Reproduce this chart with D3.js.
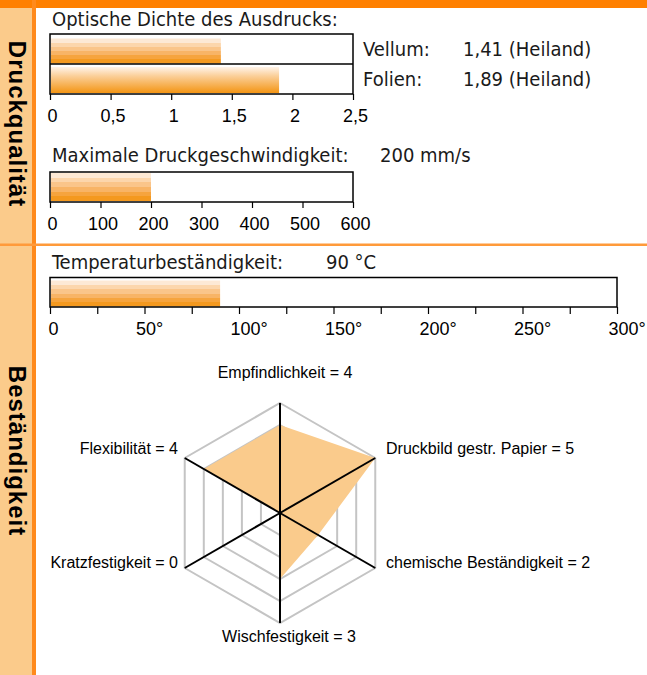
<!DOCTYPE html>
<html><head><meta charset="utf-8">
<script src="https://cdn.jsdelivr.net/npm/d3@7"></script>
<style>
html,body{margin:0;padding:0;background:#fff;}
svg{display:block;}
.title{font-family:"DejaVu Sans Condensed","DejaVu Sans",sans-serif;font-size:20px;fill:#1a1a1a;}
.tick text{font-family:"Liberation Sans",Arial,sans-serif;font-size:18px;fill:#000;}
.rlab{font-family:"Liberation Sans",Arial,sans-serif;font-size:16px;fill:#000;}
.side{font-family:"Liberation Sans",Arial,sans-serif;font-size:24px;font-weight:bold;fill:#000;letter-spacing:1px;}
</style></head>
<body>
<script>
// ---- data ----
const densityCats = ["Vellum:", "Folien:"];
const densityVals = [1.41, 1.89];
const densityText = ["1,41 (Heiland)", "1,89 (Heiland)"];
const densityTicks = [0, 0.5, 1, 1.5, 2, 2.5];

const speedVal = [200];
const speedText = "200 mm/s";
const speedTicks = [0, 100, 200, 300, 400, 500, 600];

const tempVal = [90];
const tempText = "90 °C";
const tempTicks = [0, 50, 100, 150, 200, 250, 300];
const tempMinorTicks = [25, 75, 125, 175, 225, 275];

const radarCats = ["Empfindlichkeit", "Druckbild gestr. Papier", "chemische Beständigkeit", "Wischfestigkeit", "Kratzfestigkeit", "Flexibilität"];
const radarVals = [4, 5, 2, 3, 0, 4];
const radarLevels = [1, 2, 3, 4, 5];

const sections = ["Druckqualität", "Beständigkeit"];

// ---- drawing ----
const W = 647, H = 675;
const svg = d3.select("body").append("svg").attr("width", W).attr("height", H);

const orange = "#ff8000", light = "#fbcb8b";

// background frame
svg.append("rect").attr("x", 0).attr("y", 0).attr("width", 33).attr("height", H).attr("fill", light);
svg.append("rect").attr("x", 0).attr("y", 0).attr("width", W).attr("height", 8).attr("fill", orange);
svg.append("rect").attr("x", 32).attr("y", 0).attr("width", 4).attr("height", H).attr("fill", "#ff8a1c");
svg.append("rect").attr("x", 0).attr("y", 243.5).attr("width", W).attr("height", 2.5).attr("fill", "#ff9a3a");

// side labels
[[sections[0], 124], [sections[1], 451]].forEach(([t, cy]) => {
  svg.append("text").attr("class", "side")
    .attr("transform", `translate(9,${cy}) rotate(90)`)
    .attr("text-anchor", "middle").text(t);
});

// gradients
const defs = svg.append("defs");
const stepCols = ["#fde9d5", "#fcd6ac", "#fac58a", "#f8b466", "#f6a43e", "#f4991f"];
const stepG = defs.append("linearGradient").attr("id", "gStep").attr("x1", 0).attr("y1", 0).attr("x2", 0).attr("y2", 1);
stepCols.forEach((c, i) => {
  stepG.append("stop").attr("offset", i / stepCols.length).attr("stop-color", c);
  stepG.append("stop").attr("offset", (i + 1) / stepCols.length).attr("stop-color", c);
});
const smoothG = defs.append("linearGradient").attr("id", "gSmooth").attr("x1", 0).attr("y1", 0).attr("x2", 0).attr("y2", 1);
smoothG.append("stop").attr("offset", 0).attr("stop-color", "#fff3e8");
smoothG.append("stop").attr("offset", 0.35).attr("stop-color", "#fbcf98");
smoothG.append("stop").attr("offset", 1).attr("stop-color", "#f39514");

const fmtDe = d => String(d).replace(".", ",");

function axisStyle(g) {
  g.select(".domain").remove();
  g.selectAll(".tick line").attr("stroke", "#000").attr("stroke-width", 1.2);
}

// ---- chart 1: optical density ----
{
  const x = d3.scaleLinear().domain([0, 2.5]).range([50, 353]);
  const y = d3.scaleBand().domain(densityCats).range([34, 94]);
  svg.append("text").attr("class", "title").attr("x", 52).attr("y", 26).text("Optische Dichte des Ausdrucks:");
  svg.selectAll(".dbar").data(densityVals).join("rect")
    .attr("x", x(0) + 1).attr("y", (d, i) => y(densityCats[i]) + (i === 0 ? 4.5 : 3))
    .attr("width", d => x(d) - x(0) - 1)
    .attr("height", (d, i) => y.bandwidth() - (i === 0 ? 5 : 4))
    .attr("fill", (d, i) => i === 0 ? "url(#gStep)" : "url(#gSmooth)");
  svg.append("rect").attr("x", x(0)).attr("y", 34).attr("width", x(2.5) - x(0)).attr("height", 60)
    .attr("fill", "none").attr("stroke", "#000").attr("stroke-width", 1.5);
  svg.append("line").attr("x1", x(0)).attr("x2", x(2.5)).attr("y1", y(densityCats[1])).attr("y2", y(densityCats[1]))
    .attr("stroke", "#000").attr("stroke-width", 1.5);
  const g = svg.append("g").attr("transform", "translate(0,94)")
    .call(d3.axisBottom(x).tickValues(densityTicks).tickSize(6).tickPadding(9).tickFormat(fmtDe));
  axisStyle(g);
  g.selectAll(".tick text").attr("dx", 2);
  densityCats.forEach((c, i) => {
    const cy = y(c) + y.bandwidth() / 2 + 7;
    svg.append("text").attr("class", "title").attr("x", 363).attr("y", cy).text(c);
    svg.append("text").attr("class", "title").attr("x", 463).attr("y", cy).text(densityText[i]);
  });
}

// ---- chart 2: speed ----
{
  const x = d3.scaleLinear().domain([0, 600]).range([50, 353]);
  svg.append("text").attr("class", "title").attr("x", 52).attr("y", 162).text("Maximale Druckgeschwindigkeit:");
  svg.append("text").attr("class", "title").attr("x", 380).attr("y", 162).text(speedText);
  svg.selectAll(".sbar").data(speedVal).join("rect")
    .attr("x", x(0) + 1).attr("y", 173).attr("width", d => x(d) - x(0) - 1).attr("height", 28)
    .attr("fill", "url(#gStep)");
  svg.append("rect").attr("x", x(0)).attr("y", 172).attr("width", x(600) - x(0)).attr("height", 30)
    .attr("fill", "none").attr("stroke", "#000").attr("stroke-width", 1.5);
  const g = svg.append("g").attr("transform", "translate(0,202)")
    .call(d3.axisBottom(x).tickValues(speedTicks).tickSize(6).tickPadding(9));
  axisStyle(g);
  g.selectAll(".tick text").attr("dx", 2);
}

// ---- chart 3: temperature ----
{
  const x = d3.scaleLinear().domain([0, 300]).range([50, 617]);
  svg.append("text").attr("class", "title").attr("x", 52).attr("y", 269).text("Temperaturbeständigkeit:");
  svg.append("text").attr("class", "title").attr("x", 326).attr("y", 269).text(tempText);
  svg.selectAll(".tbar").data(tempVal).join("rect")
    .attr("x", x(0) + 1).attr("y", 280.5).attr("width", d => x(d) - x(0) - 1).attr("height", 26)
    .attr("fill", "url(#gStep)");
  svg.append("rect").attr("x", x(0)).attr("y", 277.5).attr("width", x(300) - x(0)).attr("height", 29.5)
    .attr("fill", "none").attr("stroke", "#000").attr("stroke-width", 1.5);
  const g = svg.append("g").attr("transform", "translate(0,307)")
    .call(d3.axisBottom(x).tickValues(tempTicks).tickSize(7).tickPadding(8)
      .tickFormat(d => d === 0 ? "0" : d + "°"));
  axisStyle(g);
  g.selectAll(".tick text").attr("text-anchor", d => d === 0 ? "middle" : "start")
    .attr("dx", d => d === 0 ? 3 : -9);
  const gm = svg.append("g").attr("transform", "translate(0,307)")
    .call(d3.axisBottom(x).tickValues(tempMinorTicks).tickSize(7).tickFormat(""));
  axisStyle(gm);
}

// ---- radar ----
{
  const cx = 280, cy = 513;
  const r = d3.scaleLinear().domain([0, 5]).range([0, 110]);
  const n = radarCats.length;
  const ang = i => (i * 2 * Math.PI) / n; // 0 = up, clockwise
  const g = svg.append("g").attr("transform", `translate(${cx},${cy})`);
  const radial = d3.lineRadial().angle((d, i) => ang(i)).radius(d => r(d)).curve(d3.curveLinearClosed);

  g.selectAll(".ring").data(radarLevels).join("path")
    .attr("d", lv => radial(radarCats.map(() => lv)))
    .attr("fill", "none").attr("stroke", "#c4c4c4").attr("stroke-width", 2);

  g.append("path").attr("d", radial(radarVals)).attr("fill", "#facb8c").attr("stroke", "none");

  g.selectAll(".axis").data(radarCats).join("line")
    .attr("x1", 0).attr("y1", 0)
    .attr("x2", (d, i) => r(5) * Math.sin(ang(i)))
    .attr("y2", (d, i) => -r(5) * Math.cos(ang(i)))
    .attr("stroke", "#000").attr("stroke-width", 2);

  const labPos = [
    { dx: 5, dy: -135, anchor: "middle" },
    { dx: 106, dy: -59, anchor: "start" },
    { dx: 106, dy: 55, anchor: "start" },
    { dx: 9, dy: 129, anchor: "middle" },
    { dx: -102, dy: 55, anchor: "end" },
    { dx: -102, dy: -59, anchor: "end" }
  ];
  g.selectAll(".rlab").data(radarCats).join("text").attr("class", "rlab")
    .attr("x", (d, i) => labPos[i].dx).attr("y", (d, i) => labPos[i].dy)
    .attr("text-anchor", (d, i) => labPos[i].anchor)
    .text((d, i) => `${d} = ${radarVals[i]}`);
}
</script>
</body></html>
